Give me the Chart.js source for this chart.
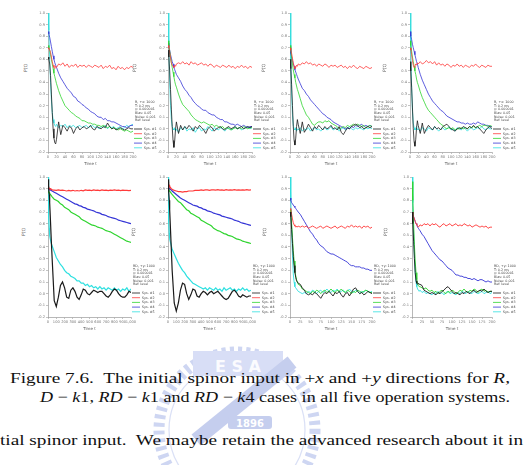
<!DOCTYPE html>
<html><head><meta charset="utf-8">
<script src="https://cdn.jsdelivr.net/npm/chart.js@4.4.1/dist/chart.umd.min.js"></script>
<style>
html,body{margin:0;padding:0;background:#fff;}
body{width:527px;height:465px;overflow:hidden;position:relative;}
canvas{position:absolute;}
.ylab{position:absolute;font:4.5px "DejaVu Sans",sans-serif;color:#555;white-space:nowrap;transform:translate(-50%,-50%) rotate(-90deg);}
.cap{position:absolute;font-family:"Liberation Serif",serif;font-size:15px;color:#111;white-space:nowrap;transform-origin:0 0;line-height:15px;}
#wm{position:absolute;left:0;top:0;}
</style></head><body>
<svg id="wm" width="527" height="465">
  <g opacity="0.5">
    <circle cx="237" cy="430" r="78" fill="none" stroke="#9eaee6" stroke-width="11" stroke-dasharray="4 4"/>
    <circle cx="237" cy="430" r="68" fill="none" stroke="#b6c2ee" stroke-width="1.2"/>
    <rect x="193" y="351" width="90" height="25" fill="#b3bfee"/>
    <line x1="292" y1="362" x2="196" y2="440" stroke="#8d9ede" stroke-width="14"/>
    <rect x="228" y="416" width="44" height="13" rx="3" fill="#8d9ede"/>
  </g>
  <text x="250" y="427" font-family="DejaVu Sans" font-weight="bold" font-size="10" fill="#fff" text-anchor="middle">1896</text>
  <text x="238" y="372" font-family="DejaVu Sans" font-weight="bold" font-size="16" fill="#fff" text-anchor="middle" opacity="0.9">E S A</text>
</svg>
<script>
// ---------- data ----------
const tTop = [0,2,4,6,8,10,12,14,16,18,20,25,30,35,40,45,50,55,60,65,70,75,80,85,90,95,100,105,110,115,120,125,130,135,140,145,150,155,160,165,170,175,180,185,190,195,200];
const tLong = [0,5,10,15,20,30,40,50,75,100,125,150,175,200,225,250,275,300,325,350,375,400,425,450,475,500,525,550,575,600,625,650,675,700,725,750,775,800,825,850,875,900,925,950,975,1000];
const sysLabels = ["Sys. #1","Sys. #2","Sys. #3","Sys. #4","Sys. #5"];
const yTicks = [-0.2,-0.1,0.0,0.1,0.2,0.3,0.4,0.5,0.6,0.7,0.8,0.9,1.0];
const xTicksShort = [0,20,40,60,80,100,120,140,160,180,200];
const xTicksShort2 = [0,25,50,75,100,125,150,175,200];
const xTicksLong = [0,100,200,300,400,500,600,700,800,900,1000];

const p1Sys1 = [0.62,0.6,0.56,0.46,0.3,0.14,0.0,-0.08,-0.12,-0.13,-0.09, 0.06,-0.05,0.03,0.01,-0.02,0.02,0.01,-0.04,0.0,0.02, -0.01,0.01,0.02,0.0,0.01,0.03,0.0,-0.01,0.02,0.01, 0.0,0.02,0.01,0.05,0.02,0.0,0.01,-0.01,0.0,0.01, 0.0,-0.01,0.0,0.01,0.0,0.0];
const p1Sys2 = [0.7,0.69,0.68,0.66,0.62,0.58,0.55,0.53,0.52,0.54,0.53, 0.56,0.55,0.57,0.54,0.56,0.53,0.55,0.54,0.56,0.53, 0.55,0.54,0.55,0.53,0.55,0.54,0.53,0.55,0.54,0.53, 0.55,0.52,0.54,0.53,0.55,0.52,0.53,0.51,0.54,0.52, 0.53,0.51,0.53,0.52,0.54,0.53];
const p1Sys3 = [0.72,0.7,0.68,0.64,0.6,0.56,0.52,0.48,0.45,0.42,0.39, 0.33,0.28,0.24,0.2,0.18,0.16,0.14,0.13,0.11,0.1, 0.09,0.07,0.07,0.06,0.05,0.05,0.04,0.04,0.03,0.03, 0.02,0.03,0.02,0.01,0.02,0.0,0.01,0.0,-0.01,0.0, -0.01,-0.02,-0.01,-0.02,-0.03,-0.02];
const p1Sys4 = [0.84,0.82,0.79,0.75,0.71,0.67,0.63,0.6,0.57,0.55,0.53, 0.48,0.44,0.41,0.38,0.35,0.33,0.31,0.28,0.27,0.24, 0.23,0.21,0.2,0.18,0.17,0.15,0.14,0.13,0.11,0.1, 0.1,0.08,0.09,0.07,0.07,0.06,0.06,0.05,0.04,0.03, 0.02,0.02,0.01,0.02,0.03,0.03];
const p1Sys5 = [1.0,0.85,0.6,0.4,0.25,0.14,0.08,0.05,0.03,0.02,0.04, 0.01,0.03,0.02,0.04,0.01,0.03,0.02,0.03,0.01,0.02, 0.03,0.01,0.02,0.03,0.01,0.02,0.03,0.01,0.02,0.0, 0.02,0.01,0.03,0.0,0.02,0.01,0.02,0.0,0.01,0.02, 0.0,0.01,0.03,0.02,0.03,0.04];

const p2Sys1 = [0.68,0.62,0.5,0.34,0.17,0.02,-0.1,-0.16,-0.1,0.0,0.06, -0.04,0.03,-0.01,0.02,0.0,0.03,0.01,-0.02,0.02,0.0, 0.03,0.01,-0.01,-0.04,0.0,0.02,0.01,-0.02,0.0,0.01, 0.02,0.0,-0.01,0.01,0.02,0.0,0.01,0.02,0.0,0.01, 0.02,0.0,0.01,0.02,0.01,0.02];
const p2Sys2 = [0.72,0.7,0.66,0.61,0.57,0.55,0.54,0.53,0.55,0.54,0.56, 0.57,0.56,0.58,0.56,0.57,0.55,0.58,0.56,0.57,0.55, 0.56,0.57,0.55,0.56,0.54,0.56,0.55,0.53,0.55,0.54, 0.53,0.55,0.54,0.53,0.55,0.53,0.54,0.52,0.54,0.53, 0.55,0.53,0.54,0.52,0.54,0.53];
const p2Sys3 = [0.76,0.72,0.67,0.62,0.57,0.53,0.49,0.45,0.41,0.38,0.36, 0.3,0.25,0.21,0.19,0.17,0.15,0.12,0.1,0.08,0.07, 0.06,0.05,0.06,0.05,0.04,0.03,0.04,0.02,0.03,0.02, 0.01,0.02,0.0,0.01,0.0,-0.01,0.0,0.01,0.0,0.01, 0.0,0.02,0.01,0.0,0.01,0.01];
const p2Sys4 = [0.74,0.71,0.68,0.64,0.61,0.58,0.56,0.53,0.51,0.49,0.47, 0.44,0.41,0.37,0.34,0.32,0.29,0.27,0.24,0.22,0.2, 0.19,0.17,0.16,0.16,0.14,0.13,0.12,0.12,0.1,0.09, 0.08,0.08,0.06,0.06,0.05,0.04,0.04,0.03,0.04,0.03, 0.02,0.03,0.02,0.01,0.02,0.02];
const p2Sys5 = [1.0,0.7,0.4,0.2,0.08,0.02,0.0,-0.01,0.01,-0.02,0.0, -0.03,0.01,-0.01,0.02,-0.02,0.0,-0.01,0.01,-0.03,0.0, 0.01,-0.02,0.0,-0.01,0.02,0.0,-0.02,0.01,0.0,-0.01, 0.01,0.0,-0.02,0.0,0.01,-0.01,0.0,0.02,0.0,0.01, -0.01,0.0,0.01,0.02,0.0,0.01];

const p3Sys1 = [0.6,0.52,0.38,0.2,0.02,-0.1,-0.14,-0.08,0.02,0.08,0.04, -0.04,0.06,-0.03,0.0,0.04,0.01,-0.02,0.02,0.0,0.03, 0.01,-0.01,0.02,0.0,0.01,0.03,0.0,0.01,-0.01,0.02, -0.03,-0.05,-0.02,0.01,0.0,0.02,0.03,0.04,0.03,0.01, 0.02,0.0,0.01,0.02,0.01,0.02];
const p3Sys2 = [0.7,0.68,0.65,0.61,0.57,0.54,0.52,0.53,0.55,0.54,0.56, 0.55,0.57,0.56,0.58,0.56,0.57,0.55,0.56,0.54,0.56, 0.55,0.54,0.56,0.55,0.53,0.55,0.54,0.55,0.53,0.54, 0.55,0.53,0.54,0.52,0.54,0.53,0.55,0.53,0.52,0.54, 0.53,0.52,0.54,0.53,0.52,0.53];
const p3Sys3 = [0.72,0.68,0.62,0.56,0.51,0.47,0.44,0.4,0.37,0.34,0.32, 0.26,0.2,0.16,0.12,0.1,0.07,0.04,0.03,0.05,0.06, 0.06,0.05,0.07,0.06,0.07,0.05,0.04,0.03,0.02,0.0, 0.01,0.02,0.01,0.03,0.02,0.03,0.04,0.03,0.04,0.03, 0.02,0.03,0.01,0.02,0.03,0.02];
const p3Sys4 = [0.68,0.65,0.62,0.59,0.56,0.54,0.51,0.49,0.47,0.45,0.43, 0.39,0.35,0.33,0.3,0.28,0.25,0.23,0.21,0.19,0.17, 0.15,0.13,0.12,0.1,0.09,0.08,0.06,0.05,0.04,0.03, 0.02,0.01,0.0,0.01,0.0,0.02,0.01,0.03,0.02,0.03, 0.04,0.02,0.03,0.02,0.03,0.02];
const p3Sys5 = [1.0,0.6,0.3,0.12,0.03,0.0,-0.01,0.01,-0.02,0.0,-0.01, 0.01,-0.02,0.0,-0.01,0.01,-0.02,0.0,0.01,-0.01,0.0, -0.02,0.0,0.01,-0.01,0.0,0.02,-0.01,0.0,0.01,-0.02, 0.0,0.01,-0.01,0.0,0.02,0.0,-0.01,0.01,0.0,0.01, 0.0,-0.01,0.01,0.0,0.01,0.0];

const p4Sys1 = [0.58,0.5,0.36,0.18,0.0,-0.11,-0.15,-0.09,0.01,0.07,0.03, -0.04,0.05,-0.04,0.0,0.03,0.01,-0.01,0.02,0.0,0.01, -0.01,0.02,0.03,0.04,0.02,0.0,-0.01,-0.02,0.0,0.01, 0.0,0.02,0.01,0.0,0.02,0.01,0.03,0.01,0.02,0.0, -0.02,-0.04,-0.01,0.01,0.02,0.0];
const p4Sys2 = [0.7,0.68,0.64,0.59,0.55,0.53,0.54,0.56,0.55,0.57,0.56, 0.58,0.56,0.57,0.59,0.57,0.58,0.56,0.58,0.55,0.57, 0.55,0.56,0.54,0.56,0.55,0.53,0.55,0.54,0.56,0.54, 0.55,0.53,0.55,0.54,0.53,0.55,0.54,0.56,0.54,0.53, 0.55,0.54,0.53,0.55,0.54,0.54];
const p4Sys3 = [0.76,0.72,0.67,0.62,0.58,0.54,0.5,0.47,0.43,0.4,0.38, 0.32,0.27,0.23,0.19,0.16,0.14,0.12,0.1,0.08,0.06, 0.04,0.03,0.01,0.0,0.01,0.0,0.01,-0.01,0.0,0.0, 0.01,0.0,0.01,0.0,0.02,0.01,0.02,0.01,0.02,0.03, 0.02,0.03,0.03,0.02,0.03,0.02];
const p4Sys4 = [0.84,0.8,0.77,0.73,0.7,0.67,0.64,0.61,0.58,0.56,0.53, 0.47,0.42,0.38,0.34,0.3,0.27,0.24,0.22,0.2,0.18, 0.16,0.15,0.13,0.11,0.1,0.09,0.08,0.07,0.06,0.06, 0.05,0.05,0.04,0.05,0.04,0.04,0.05,0.04,0.06,0.05, 0.04,0.04,0.03,0.03,0.02,0.02];
const p4Sys5 = [1.0,0.65,0.35,0.15,0.05,0.01,-0.01,0.0,0.02,-0.01,0.0, -0.02,0.01,0.0,-0.02,0.01,0.0,-0.01,0.02,0.0,-0.02, 0.0,0.01,-0.01,0.0,0.02,-0.01,0.0,-0.02,0.01,0.0, -0.01,0.01,0.0,-0.02,0.0,0.01,-0.01,0.0,0.01,0.0, 0.02,0.0,-0.01,0.01,0.0,0.0];

const p5Sys1 = [0.98,0.95,0.9,0.85,0.78,0.62,0.45, 0.3,-0.06,-0.11,-0.03,0.07,0.1,0.05,-0.03,-0.04,0.03, 0.05,0.02,-0.03,-0.05,-0.01,0.04,0.03,0.0,-0.01,0.01, 0.03,0.02,0.01,0.02,0.02,0.0,-0.02,-0.03,-0.01,0.02, 0.04,0.03,0.0,-0.02,-0.03,-0.03,-0.01,0.02,0.01];
const p5Sys2 = [0.92,0.915,0.91,0.905,0.9,0.9,0.895, 0.89,0.888,0.885,0.89,0.885,0.888,0.884,0.88,0.885,0.882, 0.886,0.88,0.884,0.88,0.886,0.882,0.89,0.885,0.888,0.884, 0.89,0.885,0.888,0.884,0.889,0.885,0.887,0.883,0.888,0.885, 0.889,0.885,0.887,0.884,0.888,0.885,0.886,0.884,0.885];
const p5Sys3 = [0.88,0.875,0.87,0.865,0.86,0.85,0.84, 0.83,0.81,0.8,0.79,0.77,0.76,0.74,0.73,0.72,0.7, 0.69,0.68,0.67,0.66,0.64,0.63,0.62,0.61,0.6,0.59, 0.585,0.58,0.57,0.565,0.56,0.55,0.54,0.535,0.53,0.52, 0.51,0.5,0.49,0.48,0.47,0.46,0.45,0.445,0.44];
const p5Sys4 = [0.91,0.905,0.9,0.9,0.895,0.89,0.885, 0.88,0.87,0.86,0.85,0.84,0.83,0.82,0.81,0.8,0.79, 0.78,0.77,0.765,0.755,0.75,0.74,0.735,0.725,0.72,0.715, 0.71,0.7,0.695,0.69,0.68,0.675,0.67,0.66,0.655,0.65, 0.645,0.64,0.63,0.625,0.62,0.615,0.61,0.605,0.6];
const p5Sys5 = [1.0,0.8,0.66,0.56,0.5,0.46,0.43, 0.41,0.36,0.31,0.28,0.25,0.23,0.2,0.18,0.17,0.15, 0.14,0.13,0.11,0.11,0.09,0.09,0.07,0.08,0.06,0.07, 0.05,0.06,0.04,0.06,0.04,0.05,0.03,0.05,0.04,0.03, 0.05,0.03,0.04,0.02,0.04,0.03,0.05,0.02,0.04];

const p6Sys1 = [0.98,0.94,0.88,0.8,0.72,0.55,0.38, 0.2,-0.08,-0.15,-0.08,0.03,0.09,0.08,0.0,-0.05,-0.01, 0.04,0.03,-0.02,-0.03,0.0,0.02,0.01,-0.01,0.01,0.02, 0.0,0.01,0.02,0.0,-0.02,-0.04,-0.05,-0.04,-0.01,0.02, 0.03,0.01,-0.02,-0.03,-0.01,-0.02,-0.03,-0.02,-0.02];
const p6Sys2 = [0.96,0.95,0.94,0.93,0.92,0.91,0.9, 0.895,0.885,0.88,0.875,0.875,0.87,0.875,0.875,0.88,0.88, 0.88,0.885,0.885,0.885,0.89,0.885,0.89,0.89,0.885,0.89, 0.89,0.887,0.892,0.888,0.89,0.886,0.891,0.888,0.89,0.887, 0.891,0.888,0.89,0.887,0.89,0.888,0.891,0.888,0.89];
const p6Sys3 = [0.9,0.895,0.89,0.885,0.88,0.87,0.86, 0.85,0.83,0.81,0.79,0.78,0.76,0.74,0.72,0.71,0.69, 0.68,0.67,0.66,0.65,0.63,0.62,0.61,0.6,0.59,0.58, 0.56,0.55,0.54,0.535,0.525,0.515,0.51,0.5,0.495,0.49, 0.48,0.47,0.465,0.46,0.45,0.445,0.44,0.435,0.43];
const p6Sys4 = [0.92,0.915,0.91,0.905,0.9,0.895,0.89, 0.88,0.865,0.85,0.835,0.82,0.81,0.8,0.79,0.78,0.77, 0.76,0.755,0.75,0.74,0.735,0.725,0.72,0.71,0.705,0.7, 0.69,0.685,0.68,0.675,0.665,0.66,0.655,0.65,0.645,0.64, 0.63,0.625,0.62,0.61,0.605,0.6,0.595,0.59,0.585];
const p6Sys5 = [1.0,0.78,0.62,0.52,0.47,0.44,0.41, 0.38,0.34,0.3,0.26,0.23,0.2,0.18,0.15,0.13,0.11, 0.09,0.08,0.07,0.06,0.05,0.04,0.05,0.03,0.05,0.04, 0.03,0.05,0.03,0.04,0.02,0.05,0.03,0.04,0.05,0.03, 0.04,0.02,0.04,0.03,0.05,0.03,0.04,0.02,0.03];

const p7Sys1 = [0.7,0.66,0.55,0.43,0.32,0.24,0.18,0.14,0.11,0.1,0.09, 0.08,0.05,0.03,0.0,-0.01,0.0,-0.01,0.01,0.0,-0.02, -0.04,-0.01,0.01,0.0,0.02,0.0,-0.02,0.01,0.0,0.02, -0.01,-0.03,0.0,0.01,-0.02,0.01,0.04,0.05,0.02,0.0, 0.01,-0.01,0.0,0.02,0.01,0.0];
const p7Sys2 = [0.73,0.72,0.68,0.64,0.61,0.59,0.58,0.57,0.58,0.57,0.58, 0.57,0.58,0.57,0.58,0.56,0.57,0.58,0.57,0.56,0.57, 0.58,0.56,0.57,0.58,0.57,0.56,0.57,0.58,0.56,0.57, 0.58,0.57,0.56,0.58,0.57,0.59,0.57,0.58,0.57,0.58, 0.56,0.58,0.57,0.58,0.56,0.57];
const p7Sys3 = [0.72,0.7,0.6,0.48,0.37,0.28,0.2,0.15,0.12,0.1,0.08, 0.07,0.04,0.03,0.02,0.01,0.0,0.02,0.01,0.03,0.02, 0.0,0.02,0.03,0.01,0.02,0.04,0.02,0.01,0.03,0.02, 0.04,0.02,0.01,0.03,0.02,0.0,0.02,0.01,0.03,0.02, 0.01,0.02,0.03,0.02,0.01,0.01];
const p7Sys4 = [0.82,0.8,0.78,0.77,0.76,0.75,0.74,0.73,0.72,0.71,0.7, 0.68,0.65,0.62,0.59,0.56,0.53,0.51,0.48,0.46,0.43, 0.41,0.4,0.38,0.36,0.35,0.34,0.34,0.33,0.32,0.31, 0.3,0.29,0.28,0.27,0.25,0.24,0.24,0.23,0.23,0.23, 0.22,0.22,0.21,0.21,0.2,0.2];
const p7Sys5 = [1.0,0.8,0.55,0.33,0.17,0.1,0.06,0.05,0.04,0.03,0.02, 0.01,0.0,0.01,0.0,0.02,0.01,0.03,0.02,0.0,0.02, 0.03,0.01,0.02,0.04,0.02,0.01,0.03,0.02,0.04,0.01, 0.02,0.03,0.01,0.02,0.04,0.02,0.01,0.03,0.02,0.0, 0.02,0.01,0.03,0.02,0.01,0.02];

const p8Sys1 = [0.7,0.6,0.45,0.3,0.18,0.11,0.09,0.08,0.09,0.08,0.08, 0.07,0.03,0.02,0.01,0.0,0.01,0.0,-0.01,0.01,0.0, 0.02,0.03,0.05,0.06,0.04,0.02,0.0,0.01,0.0,-0.01, 0.01,0.0,0.02,0.01,0.0,0.02,0.03,0.01,0.02,0.03, 0.02,0.04,0.02,0.01,0.02,0.02];
const p8Sys2 = [0.7,0.68,0.66,0.64,0.62,0.6,0.59,0.58,0.57,0.58,0.59, 0.58,0.6,0.59,0.6,0.58,0.6,0.59,0.6,0.58,0.57, 0.59,0.6,0.58,0.59,0.6,0.58,0.59,0.6,0.58,0.59, 0.58,0.6,0.59,0.58,0.59,0.57,0.58,0.59,0.58,0.57, 0.58,0.57,0.58,0.56,0.57,0.57];
const p8Sys3 = [0.96,0.8,0.6,0.42,0.28,0.18,0.12,0.09,0.07,0.06,0.06, 0.05,0.04,0.05,0.03,0.02,0.03,0.01,0.02,0.0,0.02, 0.03,0.01,0.0,0.02,0.01,0.03,0.02,0.0,0.01,0.03, 0.02,0.04,0.02,0.01,0.03,0.02,0.04,0.03,0.01,0.03, 0.04,0.02,0.03,0.01,0.02,0.02];
const p8Sys4 = [0.7,0.68,0.66,0.64,0.62,0.6,0.59,0.57,0.56,0.55,0.54, 0.51,0.49,0.46,0.43,0.4,0.37,0.35,0.33,0.31,0.29, 0.28,0.26,0.24,0.22,0.21,0.2,0.18,0.16,0.16,0.15, 0.15,0.14,0.14,0.13,0.13,0.12,0.13,0.12,0.11,0.12, 0.12,0.11,0.1,0.11,0.1,0.1];
const p8Sys5 = [1.0,0.78,0.52,0.32,0.18,0.1,0.06,0.04,0.03,0.02,0.03, 0.01,0.02,0.0,0.01,0.0,-0.01,0.01,0.0,0.02,0.0, 0.01,-0.01,0.01,0.02,0.0,0.01,0.0,-0.01,0.01,0.0, 0.02,0.01,0.0,0.02,0.01,0.0,0.02,0.01,0.0,0.01, 0.02,0.0,0.01,0.02,0.0,0.01];

const infoTop = ["R, +x: 1000","T: 0.2 ms","\u03b3: 0.000001","Bias: 0.05","Noise: 0.001","Ref: level"];
const infoBottom = ["RD, +y: 1000","T: 0.2 ms","\u03b3: 0.000001","Bias: 0.05","Noise: 0.001","Ref: level"];
const yTitle = "P(t)";
const xTitle = "Time t";

// ---------- styles / layout ----------
const colors = ["#1a1a1a","#ff3b3b","#2fd42f","#3535d6","#2ee0e0"];
const panels = [
  {series:[p1Sys1,p1Sys2,p1Sys3,p1Sys4,p1Sys5], t:tTop, xt:xTicksShort, info:infoTop, L:48, T:13, W:85, H:139, ly:25, bw:0.8},
  {series:[p2Sys1,p2Sys2,p2Sys3,p2Sys4,p2Sys5], t:tTop, xt:xTicksShort, info:infoTop, L:168, T:13, W:84, H:139, ly:134, bw:0.8},
  {series:[p3Sys1,p3Sys2,p3Sys3,p3Sys4,p3Sys5], t:tTop, xt:xTicksShort, info:infoTop, L:290, T:13, W:82, H:139, ly:263, bw:0.8},
  {series:[p4Sys1,p4Sys2,p4Sys3,p4Sys4,p4Sys5], t:tTop, xt:xTicksShort, info:infoTop, L:410, T:13, W:82, H:139, ly:384, bw:0.8},
  {series:[p5Sys1,p5Sys2,p5Sys3,p5Sys4,p5Sys5], t:tLong, xt:xTicksLong, info:infoBottom, L:48, T:177, W:83, H:140, ly:23, bw:1.2},
  {series:[p6Sys1,p6Sys2,p6Sys3,p6Sys4,p6Sys5], t:tLong, xt:xTicksLong, info:infoBottom, L:168, T:177, W:83, H:140, ly:133, bw:1.2},
  {series:[p7Sys1,p7Sys2,p7Sys3,p7Sys4,p7Sys5], t:tTop, xt:xTicksShort2, info:infoBottom, L:290, T:177, W:82, H:140, ly:264, bw:0.9},
  {series:[p8Sys1,p8Sys2,p8Sys3,p8Sys4,p8Sys5], t:tTop, xt:xTicksShort2, info:infoBottom, L:412, T:177, W:80, H:140, ly:385, bw:0.9}
];
const YW = 12, XH = 14, PT = 4, PR = 32;

const sidePlugin = {
  id: 'side',
  afterDraw(chart, args, opts) {
    const {ctx, chartArea} = chart;
    const x0 = chartArea.right + 1;
    ctx.save();
    ctx.fillStyle = '#444';
    ctx.font = '3.3px "DejaVu Sans", sans-serif';
    ctx.textBaseline = 'middle';
    opts.info.forEach((s, i) => ctx.fillText(s, x0 + 1, chartArea.top + 89 + i * 3.7));
    chart.data.datasets.forEach((ds, i) => {
      const y = chartArea.top + 116 + i * 4.7;
      ctx.strokeStyle = ds.borderColor; ctx.lineWidth = 0.8;
      ctx.beginPath(); ctx.moveTo(x0, y); ctx.lineTo(x0 + 8, y); ctx.stroke();
      ctx.fillStyle = '#444';
      ctx.fillText(ds.label, x0 + 10, y);
    });
    ctx.restore();
  }
};

panels.forEach((p) => {
  const cv = document.createElement('canvas');
  const w = YW + p.W + PR, h = PT + p.H + XH;
  cv.width = w; cv.height = h;
  cv.style.left = (p.L - YW) + 'px'; cv.style.top = (p.T - PT) + 'px';
  cv.style.width = w + 'px'; cv.style.height = h + 'px';
  document.body.appendChild(cv);
  const lab = document.createElement('div');
  lab.className = 'ylab'; lab.textContent = yTitle;
  lab.style.left = p.ly + 'px'; lab.style.top = (p.T + 55) + 'px';
  document.body.appendChild(lab);
  const xt = p.xt;
  new Chart(cv, {
    type: 'line',
    data: {
      datasets: p.series.map((s, i) => ({
        label: sysLabels[i],
        data: p.t.map((tv, k) => ({x: tv, y: s[k]})).filter(d => d.y !== undefined),
        borderColor: colors[i], borderWidth: p.bw, pointRadius: 0, tension: 0, fill: false
      }))
    },
    options: {
      responsive: false, animation: false, devicePixelRatio: 1,
      layout: {padding: {top: PT, right: PR, left: 0, bottom: 0}},
      plugins: {legend: {display: false}, tooltip: {enabled: false}, side: {info: p.info}},
      scales: {
        x: {
          type: 'linear', min: xt[0], max: xt[xt.length - 1],
          afterBuildTicks: (sc) => { sc.ticks = xt.map(v => ({value: v})); },
          ticks: {font: {size: 3.6, family: 'DejaVu Sans'}, color: '#777', padding: 1, maxRotation: 0, autoSkip: false},
          grid: {drawOnChartArea: false, tickLength: 2, color: '#888', lineWidth: 0.5},
          border: {color: '#888', width: 0.6},
          title: {display: true, text: xTitle, font: {size: 4, family: 'DejaVu Sans'}, color: '#555', padding: 0},
          afterFit: (sc) => { sc.height = XH; }
        },
        y: {
          min: yTicks[0], max: yTicks[yTicks.length - 1],
          afterBuildTicks: (sc) => { sc.ticks = yTicks.map(v => ({value: v})); },
          ticks: {font: {size: 3.6, family: 'DejaVu Sans'}, color: '#777', padding: 1, autoSkip: false,
                  callback: (v) => (Math.abs(v) < 1e-9 ? 0 : v).toFixed(1)},
          grid: {drawOnChartArea: false, tickLength: 2, color: '#888', lineWidth: 0.5},
          border: {color: '#888', width: 0.6},
          afterFit: (sc) => { sc.width = YW; }
        }
      }
    },
    plugins: [sidePlugin]
  });
});

// ---------- caption ----------
const capLines = [
  {html: 'Figure 7.6.&nbsp; The initial spinor input in +<i>x</i> and +<i>y</i> directions for <i>R</i>,', x: 10, base: 383, target: 500},
  {html: '<i>D</i> &minus; <i>k</i>1, <i>RD</i> &minus; <i>k</i>1 and <i>RD</i> &minus; <i>k</i>4 cases in all five operation systems.', x: 40, base: 402, target: 470},
  {html: 'tial spinor input.&nbsp; We maybe retain the advanced research about it in', x: 0, base: 445, target: null}
];
let sc = 1;
capLines.forEach((c, i) => {
  const d = document.createElement('div');
  d.className = 'cap'; d.innerHTML = c.html;
  d.style.left = c.x + 'px'; d.style.top = (c.base - 12) + 'px';
  document.body.appendChild(d);
  const s = c.target ? c.target / d.offsetWidth : sc;
  if (i === 0) sc = s;
  d.style.transform = 'scaleX(' + s + ')';
});
</script>
</body></html>
